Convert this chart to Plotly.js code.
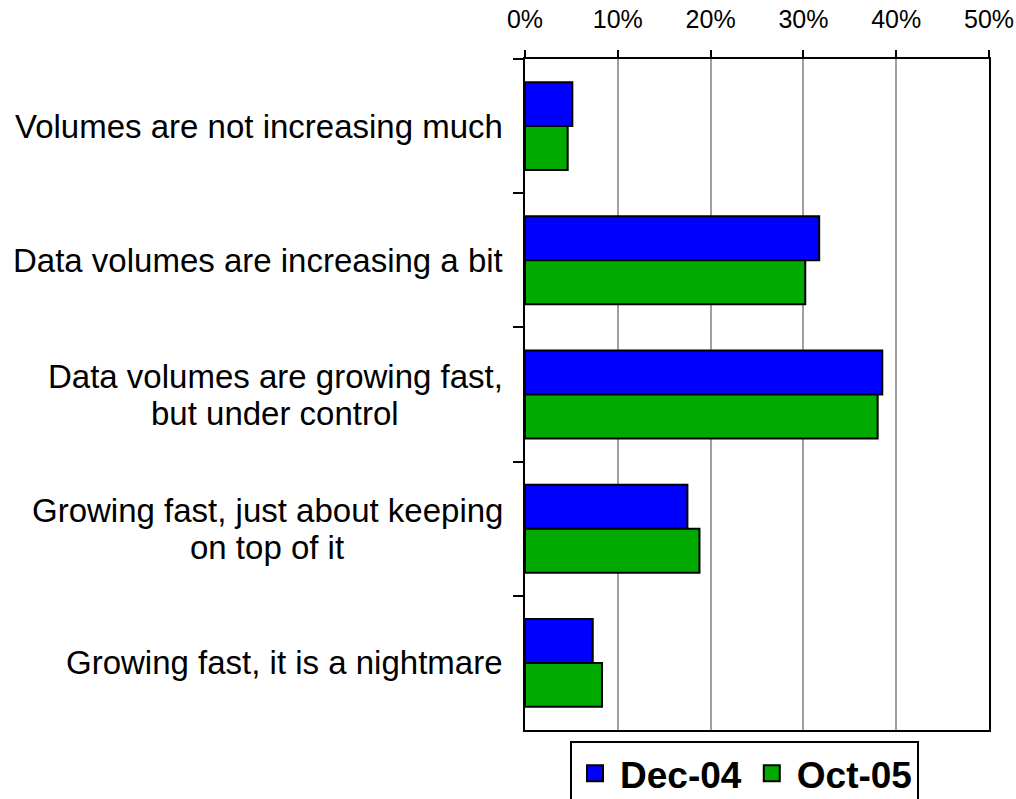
<!DOCTYPE html>
<html>
<head>
<meta charset="utf-8">
<script src="https://cdn.plot.ly/plotly-3.0.1.min.js"></script>
<style>
  html, body { margin: 0; padding: 0; background: #ffffff; }
  #chart { width: 1016px; height: 799px; }
</style>
</head>
<body>
<div id="chart"></div>
<script>
const categories = [
  "Volumes are not increasing much",
  "Data volumes are increasing a bit",
  "Data volumes are growing fast,<br>but under control",
  "Growing fast, just about keeping<br>on top of it",
  "Growing fast, it is a nightmare"
];
const seriesNames = ["Dec-04", "Oct-05"];
const seriesColors = ["#0000ff", "#00aa00"];
const dec04 = [0.051, 0.317, 0.385, 0.175, 0.073];
const oct05 = [0.046, 0.302, 0.380, 0.188, 0.083];
const xTickVals = [0, 0.1, 0.2, 0.3, 0.4, 0.5];
const xTickText = ["0%", "10%", "20%", "30%", "40%", "50%"];

const FONT = "'Liberation Sans', Arial, Helvetica, sans-serif";
const seriesValues = [dec04, oct05];

const traces = [];
seriesValues.forEach((vals, i) => {
  traces.push({
    type: "bar", orientation: "h", name: seriesNames[i],
    y: categories, x: vals, showlegend: false, legendgroup: seriesNames[i],
    marker: { color: seriesColors[i], line: { color: "#000000", width: 2 } },
    hoverinfo: "none"
  });
});
// legend-only entries (larger square symbols than bar legend swatches)
seriesValues.forEach((vals, i) => {
  traces.push({
    type: "scatter", mode: "markers", name: seriesNames[i],
    x: [null], y: [null], showlegend: true, legendgroup: seriesNames[i],
    marker: { symbol: "square", size: 16, color: seriesColors[i], line: { color: "#000000", width: 2 } },
    hoverinfo: "none"
  });
});

const LINE_STEP = 37;
const annotations = [];
categories.forEach(c => {
  const lines = c.split("<br>");
  lines.forEach((ln, i) => {
    annotations.push({
      xref: "paper", yref: "y", x: 0, y: c,
      xanchor: "right", yanchor: "middle", xshift: -20,
      yshift: ((lines.length - 1) / 2 - i) * LINE_STEP,
      text: ln, showarrow: false, align: "center",
      font: { family: FONT, size: 33, color: "#000000" }
    });
  });
});
// center-align multi-line labels: shift shorter lines to the block centre
const measure = document.createElement("canvas").getContext("2d");
measure.font = "33px 'Liberation Sans', Arial";
categories.forEach(c => {
  const lines = c.split("<br>");
  if (lines.length < 2) return;
  const widths = lines.map(l => measure.measureText(l).width);
  const maxW = Math.max(...widths);
  annotations.filter(a => a.y === c).forEach((a, i) => {
    a.xshift = -20 - (maxW - widths[i]) / 2;
  });
});

const layout = {
  width: 1016, height: 799,
  margin: { l: 525, r: 27, t: 59, b: 69, pad: 0, autoexpand: false },
  paper_bgcolor: "#ffffff", plot_bgcolor: "#ffffff",
  font: { family: FONT, color: "#000000" },
  barmode: "group", bargap: 0.345, bargroupgap: 0,
  showlegend: true,
  legend: {
    orientation: "h", x: 0.097, xanchor: "left", y: -0.016, yanchor: "top",
    bordercolor: "#000000", borderwidth: 2, bgcolor: "#ffffff",
    font: { family: FONT, size: 37, color: "#000000", weight: "bold" },
    itemwidth: 40
  },
  xaxis: {
    side: "top", range: [0, 0.5], fixedrange: true,
    tickvals: xTickVals, ticktext: xTickText,
    tickfont: { family: FONT, size: 25, color: "#000000" },
    ticks: "outside", ticklen: 7, tickwidth: 2, tickcolor: "#000000",
    ticklabelstandoff: 12,
    showline: true, linecolor: "#000000", linewidth: 2, mirror: true,
    showgrid: true, gridcolor: "#a0a0a0", gridwidth: 2,
    zeroline: false
  },
  yaxis: {
    type: "category", autorange: "reversed", fixedrange: true,
    showticklabels: false,
    ticks: "outside", tickson: "boundaries", ticklen: 10, tickwidth: 2, tickcolor: "#000000",
    showline: true, linecolor: "#000000", linewidth: 2, mirror: true,
    showgrid: false, zeroline: false
  },
  annotations: annotations
};

Plotly.newPlot("chart", traces, layout, { displayModeBar: false, staticPlot: true });
</script>
</body>
</html>
